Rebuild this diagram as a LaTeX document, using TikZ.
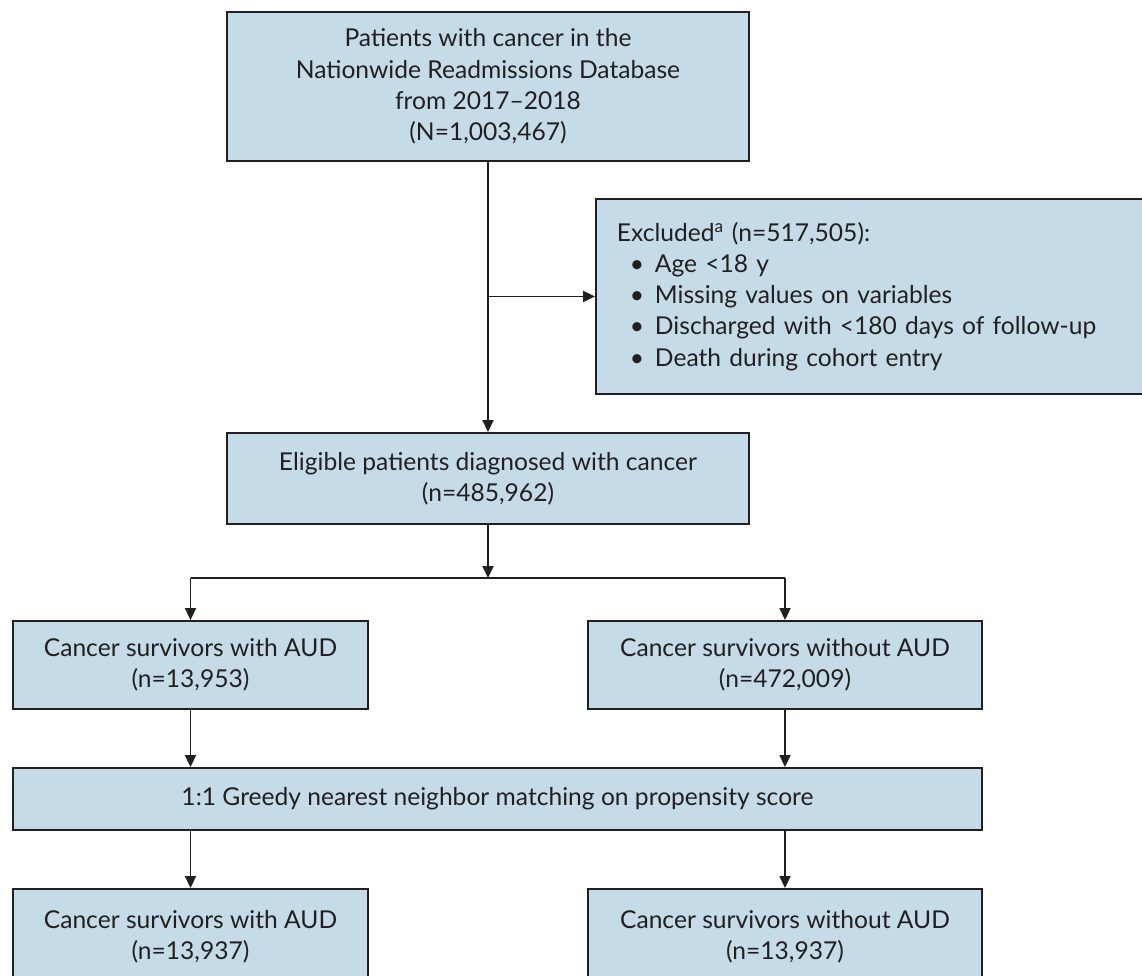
\documentclass[tikz,border=0pt]{standalone}
\usepackage{fontspec}
\setmainfont{Lato}
\usetikzlibrary{arrows.meta,calc}
\definecolor{boxfill}{RGB}{197,219,232}
\definecolor{edge}{RGB}{35,31,32}
\begin{document}
\begin{tikzpicture}[x=1pt,y=-1pt,
  box/.style={draw=edge, line width=1.9pt, fill=boxfill, inner sep=0pt, align=center, font=\fontsize{24.6}{31.2}\selectfont, text=edge},
  conn/.style={draw=edge, line width=1.8pt},
  arr/.style={conn, -{Triangle[length=12pt,width=11pt]}}
]
\clip (0,0) rectangle (1142,975);
\fill[white] (0,0) rectangle (1142,975);

\node[box, minimum width=522, minimum height=149] (top) at (488,86.5)
  {Patients with cancer in the\\Nationwide Readmissions Database\\from 2017–2018\\(N=1,003,467)};

\node[box, anchor=north west, minimum height=195, inner xsep=21pt, text width=530pt, align=left] (excl) at (595,198)
  {Excluded\textsuperscript{a} (n=517,505):\\
   \hspace*{13pt}\makebox[25pt][l]{•}Age <18 y\\
   \hspace*{13pt}\makebox[25pt][l]{•}Missing values on variables\\
   \hspace*{13pt}\makebox[25pt][l]{•}Discharged with <180 days of follow-up\\
   \hspace*{13pt}\makebox[25pt][l]{•}Death during cohort entry};

\node[box, minimum width=522, minimum height=91] (elig) at (488,478.5)
  {Eligible patients diagnosed with cancer\\(n=485,962)};

\node[box, minimum width=355, minimum height=88] (left) at (190.5,665)
  {Cancer survivors with AUD\\(n=13,953)};
\node[box, minimum width=394, minimum height=88] (right) at (785,665)
  {Cancer survivors without AUD\\(n=472,009)};

\node[box, minimum width=969, minimum height=62] (match) at (497.5,799)
  {1:1 Greedy nearest neighbor matching on propensity score};

\node[box, minimum width=355, minimum height=96] (bl) at (190.5,937)
  {Cancer survivors with AUD\\(n=13,937)};
\node[box, minimum width=394, minimum height=96] (brt) at (785,937)
  {Cancer survivors without AUD\\(n=13,937)};

\draw[arr] (top.south) -- (elig.north);
\coordinate (branch) at (top.south |- excl.west);
\draw[arr] (branch) -- (excl.west);

\coordinate (split) at (488,578);
\draw[arr] (elig.south) -- (split);
\coordinate (sl) at (left.north |- split);
\coordinate (sr) at (right.north |- split);
\draw[conn] (sl) -- (sr);
\draw[arr] (sl) -- (left.north);
\draw[arr] (sr) -- (right.north);

\draw[arr] (left.south) -- (left.south |- match.north);
\draw[arr] (right.south) -- (right.south |- match.north);
\draw[arr] (match.south -| bl.north) -- (bl.north);
\draw[arr] (match.south -| brt.north) -- (brt.north);
\end{tikzpicture}
\end{document}
